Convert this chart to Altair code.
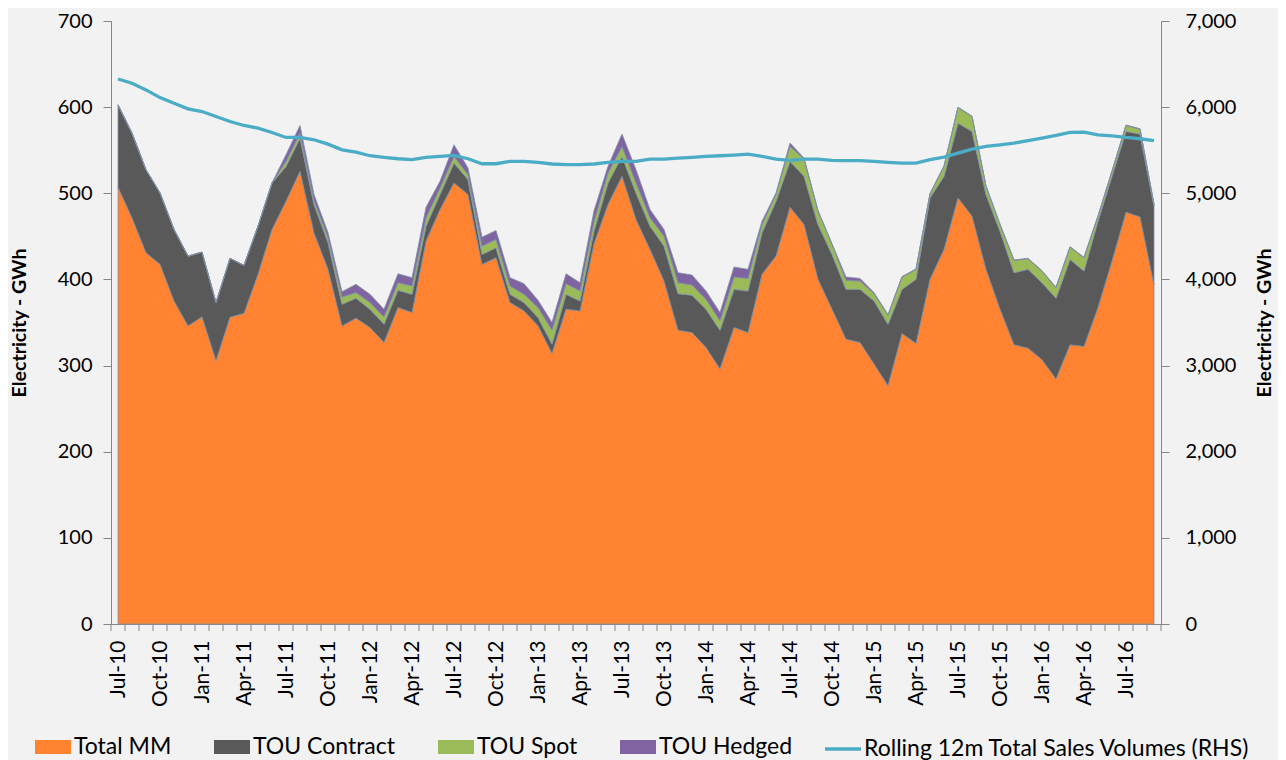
import json
import altair as alt
import pandas as pd

months = [
    "Jul-10", "Aug-10", "Sep-10", "Oct-10", "Nov-10", "Dec-10",
    "Jan-11", "Feb-11", "Mar-11", "Apr-11", "May-11", "Jun-11",
    "Jul-11", "Aug-11", "Sep-11", "Oct-11", "Nov-11", "Dec-11",
    "Jan-12", "Feb-12", "Mar-12", "Apr-12", "May-12", "Jun-12",
    "Jul-12", "Aug-12", "Sep-12", "Oct-12", "Nov-12", "Dec-12",
    "Jan-13", "Feb-13", "Mar-13", "Apr-13", "May-13", "Jun-13",
    "Jul-13", "Aug-13", "Sep-13", "Oct-13", "Nov-13", "Dec-13",
    "Jan-14", "Feb-14", "Mar-14", "Apr-14", "May-14", "Jun-14",
    "Jul-14", "Aug-14", "Sep-14", "Oct-14", "Nov-14", "Dec-14",
    "Jan-15", "Feb-15", "Mar-15", "Apr-15", "May-15", "Jun-15",
    "Jul-15", "Aug-15", "Sep-15", "Oct-15", "Nov-15", "Dec-15",
    "Jan-16", "Feb-16", "Mar-16", "Apr-16", "May-16", "Jun-16",
    "Jul-16", "Aug-16", "Sep-16",
]

total_mm = [
    506.9, 471.4, 430.9, 417.5, 375.0, 346.0, 356.5, 305.6, 356.0, 360.7,
    405.9, 458.0, 490.7, 525.5, 454.0, 411.7, 346.0, 355.0, 344.1, 326.8,
    367.3, 361.5, 444.4, 481.1, 512.0, 498.5, 417.4, 425.2, 373.1, 363.4,
    346.1, 314.0, 365.4, 363.4, 441.4, 486.9, 519.7, 469.5, 434.8, 398.2,
    341.0, 338.3, 321.0, 295.9, 344.1, 338.3, 405.9, 427.1, 483.8, 463.7,
    400.1, 365.4, 330.6, 326.8, 301.7, 276.6, 337.2, 325.6, 400.1, 434.8,
    494.6, 473.4, 411.7, 365.4, 324.1, 320.2, 306.7, 284.4, 324.1, 322.2,
    367.3, 421.3, 478.0, 472.6, 393.5,
]

tou_contract = [
    95.7, 98.4, 96.5, 82.9, 83.0, 81.0, 75.2, 67.4, 68.4, 55.6,
    55.9, 54.0, 40.3, 38.5, 32.9, 31.2, 25.2, 23.1, 21.3, 21.2,
    20.1, 21.2, 17.4, 17.4, 23.1, 17.3, 11.6, 11.5, 9.6, 9.7,
    9.6, 10.9, 17.3, 11.6, 14.6, 25.1, 23.1, 30.9, 27.0, 40.5,
    42.5, 43.3, 44.4, 45.1, 44.4, 48.3, 48.2, 63.6, 53.2, 56.0,
    63.6, 63.6, 57.9, 61.7, 73.3, 71.4, 51.3, 74.5, 94.5, 84.9,
    86.8, 98.4, 86.8, 90.6, 83.7, 91.5, 89.5, 93.7, 99.1, 87.5,
    100.3, 98.4, 93.8, 96.1, 91.5,
]

tou_spot = [
    0, 0, 0, 0, 0, 0, 0, 0, 0, 0,
    0, 0, 6.0, 5.8, 4.7, 5.8, 8.4, 6.6, 7.7, 8.5,
    8.8, 9.7, 9.7, 7.7, 7.7, 5.8, 9.6, 9.7, 9.7, 9.6,
    11.6, 16.2, 12.4, 11.6, 11.6, 11.5, 11.6, 11.6, 9.7, 11.5,
    12.7, 11.9, 11.5, 10.9, 14.3, 14.6, 9.6, 7.8, 17.4, 20.4,
    15.5, 11.6, 10.4, 9.7, 8.5, 10.4, 14.3, 11.6, 4.6, 11.6,
    18.1, 17.3, 9.6, 7.7, 14.3, 12.3, 13.5, 12.3, 14.3, 15.5,
    5.8, 5.8, 6.9, 5.8, 1.9,
]

tou_hedged = [
    0, 0, 0, 0, 0, 0, 0, 0, 0, 0,
    0, 0, 7.8, 8.9, 6.9, 5.8, 6.2, 9.6, 9.6, 8.9,
    10.4, 9.6, 12.3, 7.7, 13.5, 7.7, 10.5, 10.4, 9.6, 12.4,
    8.5, 8.9, 11.5, 9.6, 12.0, 7.8, 14.3, 15.4, 9.6, 7.8,
    11.6, 11.6, 9.7, 9.6, 11.6, 10.5, 3.9, 1.9, 3.9, 0.8,
    0.8, 0.8, 3.9, 3.0, 1.2, 0.8, 0.5, 0.5, 0.5, 0.5,
    0.5, 0.5, 0.5, 0.5, 0.5, 0.5, 0.5, 0.5, 0.5, 0.5,
    0.5, 0.5, 0.5, 0.5, 0.5,
]

rolling_12m = [
    6327, 6277, 6200, 6111, 6046, 5980, 5949, 5891, 5833, 5787,
    5756, 5706, 5648, 5648, 5621, 5571, 5505, 5478, 5436, 5417,
    5401, 5390, 5417, 5428, 5440, 5401, 5343, 5343, 5370, 5370,
    5359, 5340, 5332, 5332, 5340, 5359, 5370, 5370, 5397, 5397,
    5409, 5417, 5428, 5436, 5444, 5455, 5428, 5397, 5382, 5397,
    5397, 5382, 5378, 5378, 5370, 5359, 5351, 5351, 5390, 5421,
    5467, 5513, 5544, 5563, 5583, 5610, 5640, 5671, 5706, 5710,
    5679, 5667, 5648, 5633, 5610,
]

area_names = ["Total MM", "TOU Contract", "TOU Spot", "TOU Hedged"]
area_colors = ["#FF8330", "#595959", "#9BBB59", "#8064A2"]
line_name = "Rolling 12m Total Sales Volumes (RHS)"
line_color = "#4BACC6"

FONT = "Lato"
AXIS_GREY = "#868686"
NUM_SIZE = 20
LEGEND_SIZE = 23
PLOT_H = 603

rows = []
for k, (name, vals) in enumerate(zip(area_names, [total_mm, tou_contract, tou_spot, tou_hedged])):
    for i, v in enumerate(vals):
        rows.append({"i": i, "month": months[i], "series": name, "value": v, "ord": k})
df_area = pd.DataFrame(rows)

df_line = pd.DataFrame({"i": list(range(len(months))), "month": months,
                        "rolling": rolling_12m, "series": line_name})

n = len(months)
# month boundaries (category tick marks between months)
df_ticks = pd.DataFrame({"i": [k - 0.5 for k in range(n + 1)]})

label_expr = f"{json.dumps(months)}[datum.value]"

x_enc = alt.X(
    "i:Q",
    scale=alt.Scale(domain=[-0.5, n - 0.5], nice=False, zero=False),
    axis=alt.Axis(
        values=list(range(0, n - 2, 3)),
        labelExpr=label_expr,
        labelAngle=270,
        labelAlign="right",
        labelBaseline="middle",
        labelPadding=16,
        ticks=False,
        domainColor=AXIS_GREY,
        labelFont=FONT,
        labelFontSize=21,
        labelColor="black",
        labelOverlap=False,
        labelBound=False,
        labelFlush=False,
        grid=False,
        title=None,
    ),
)

area = alt.Chart(df_area).mark_area(
    stroke="#8090A6", strokeWidth=0.8, opacity=1
).encode(
    x=x_enc,
    y=alt.Y(
        "value:Q",
        stack="zero",
        scale=alt.Scale(domain=[0, 700], nice=False),
        axis=alt.Axis(
            orient="left",
            values=list(range(0, 701, 100)),
            tickSize=8,
            labelPadding=11,
            labelFont=FONT,
            labelFontSize=NUM_SIZE,
            labelColor="black",
            tickColor=AXIS_GREY,
            domainColor=AXIS_GREY,
            grid=False,
            title="Electricity - GWh",
            titleFont=FONT,
            titleFontSize=19.5,
            titleFontWeight="bold",
            titleColor="black",
            titleX=-92,
            titleY=PLOT_H / 2,
            titleAngle=270,
            titleAlign="center",
            titleBaseline="middle",
        ),
    ),
    color=alt.Color(
        "series:N",
        scale=alt.Scale(domain=area_names, range=area_colors),
        legend=alt.Legend(
            orient="none",
            legendX=-76,
            legendY=708,
            direction="horizontal",
            title=None,
            labelFont=FONT,
            labelFontSize=LEGEND_SIZE,
            labelColor="black",
            labelLimit=600,
            labelOffset=3,
            columnPadding=42,
            symbolSize=1296,
            symbolType="M-1,-0.39H1V0.39H-1Z",
            symbolStrokeWidth=0,
            symbolOpacity=1,
            padding=0,
        ),
    ),
    order=alt.Order("ord:Q"),
)

ticks = alt.Chart(df_ticks).mark_rule(color=AXIS_GREY, strokeWidth=1).encode(
    x=alt.X("i:Q"),
    y=alt.value(PLOT_H),
    y2=alt.value(PLOT_H + 7),
)

line = alt.Chart(df_line).mark_line(strokeWidth=3.3).encode(
    x=alt.X("i:Q"),
    y=alt.Y(
        "rolling:Q",
        scale=alt.Scale(domain=[0, 7000], nice=False),
        axis=alt.Axis(
            orient="right",
            values=list(range(0, 7001, 1000)),
            format=",.0f",
            tickSize=8,
            labelPadding=16,
            labelFont=FONT,
            labelFontSize=NUM_SIZE,
            labelColor="black",
            tickColor=AXIS_GREY,
            domainColor=AXIS_GREY,
            grid=False,
            title="Electricity - GWh",
            titleFont=FONT,
            titleFontSize=19.5,
            titleFontWeight="bold",
            titleColor="black",
            titleX=103,
            titleY=PLOT_H / 2,
            titleAngle=270,
            titleAlign="center",
            titleBaseline="middle",
        ),
    ),
    stroke=alt.Stroke(
        "series:N",
        scale=alt.Scale(domain=[line_name], range=[line_color]),
        legend=alt.Legend(
            orient="none",
            legendX=712,
            legendY=708,
            direction="horizontal",
            title=None,
            labelFont=FONT,
            labelFontSize=LEGEND_SIZE,
            labelColor="black",
            labelLimit=600,
            labelOffset=1,
            symbolType="stroke",
            symbolSize=1296,
            symbolStrokeWidth=3.5,
            padding=0,
        ),
    ),
)

chart = (
    alt.layer(area, ticks, line)
    .resolve_scale(y="independent")
    .properties(
        width=1050,
        height=PLOT_H,
        autosize=alt.AutoSizeParams(type="none"),
        padding={"left": 103, "top": 13, "right": 117, "bottom": 136},
    )
    .configure(background="#F2F2F2")
    .configure_view(strokeWidth=0)
)

chart.save("out.html", embed_options={"renderer": "svg", "actions": False})
